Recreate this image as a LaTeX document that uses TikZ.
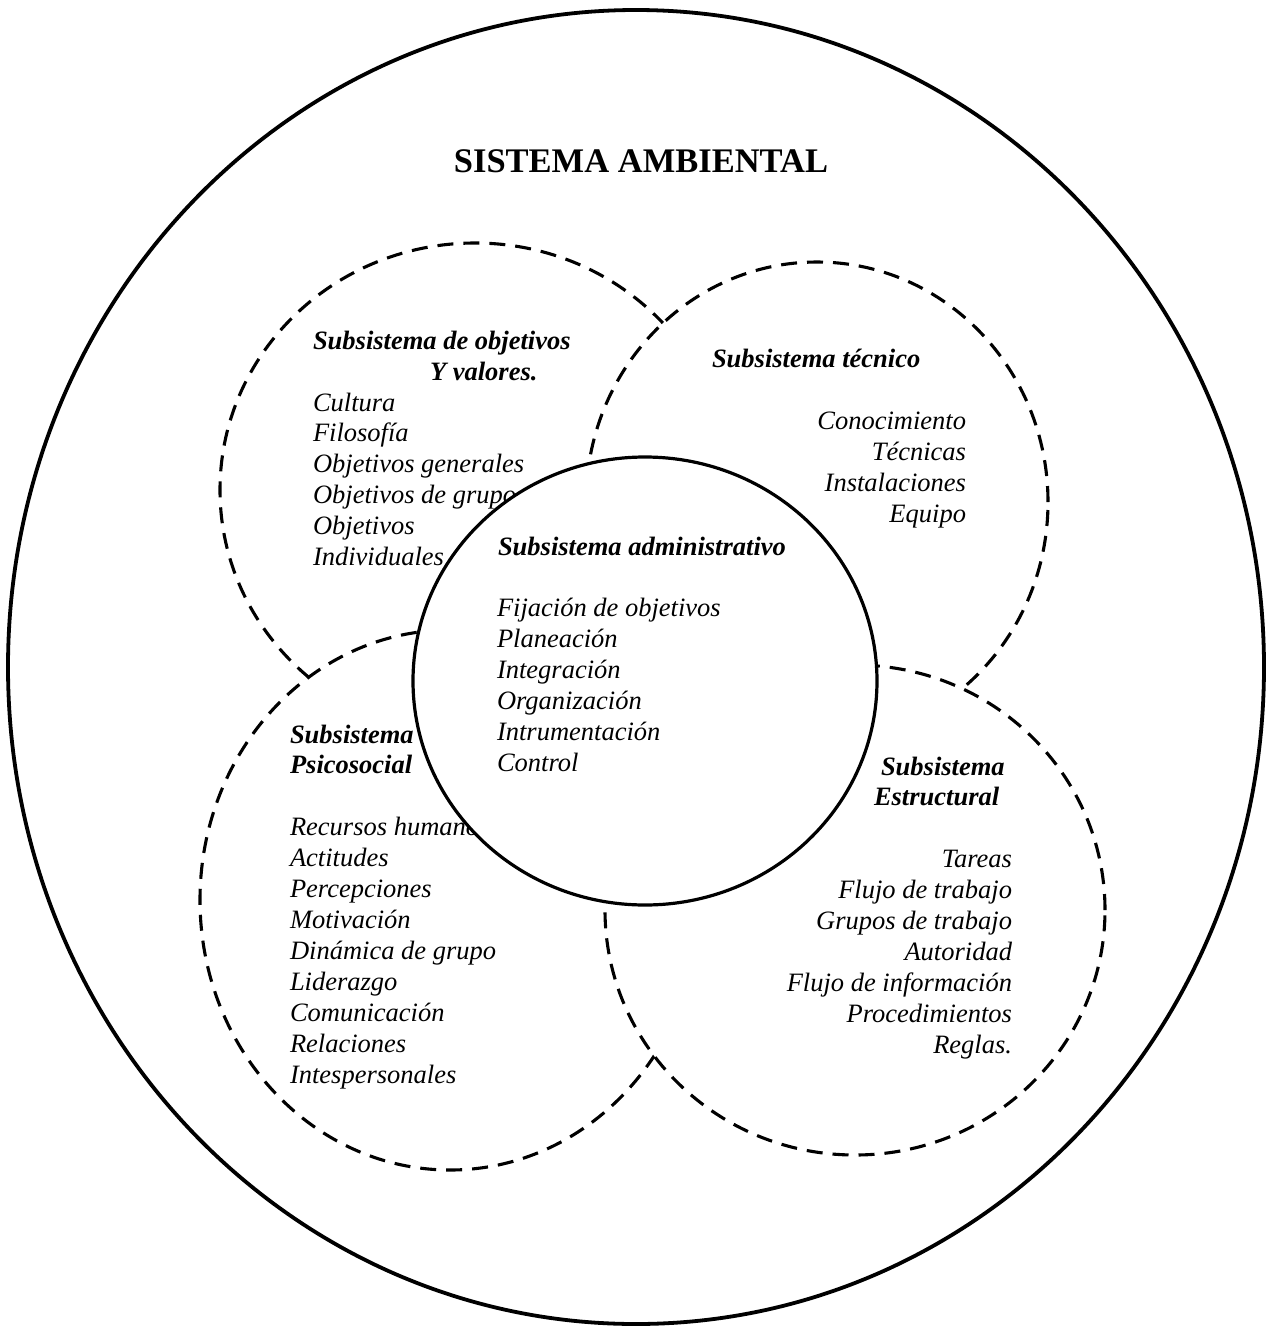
\documentclass[tikz,border=0pt]{standalone}
\usepackage{fontspec}
\setmainfont{Liberation Serif}
\begin{document}
\begin{tikzpicture}[x=1pt,y=-1pt,
  every node/.style={inner sep=0pt, outer sep=0pt},
  itm/.style={font=\fontsize{26.5}{31}\selectfont\itshape},
  hdr/.style={font=\fontsize{26.5}{31}\selectfont\bfseries\itshape},
  ttl/.style={font=\fontsize{34.5}{40}\selectfont\bfseries},
  subsys/.style={draw=black, line width=3.1pt, dash pattern=on 16pt off 10pt, fill=white},
  solidline/.style={draw=black, line width=3.2pt},
]
\useasboundingbox (0,0) rectangle (1270,1334);
% outer environment
\draw[solidline, line width=3.8pt] (636,667) ellipse [x radius=628pt, y radius=657pt];
\node[ttl, anchor=base] (title) at (641,172) {SISTEMA AMBIENTAL};
% subsystems (layered, white filled)
\path[subsys] (475,490) ellipse [x radius=255pt, y radius=247pt];
\path[subsys] (817,502) ellipse [x radius=231pt, y radius=240pt];
\path[subsys] (450,900) ellipse [x radius=250pt, y radius=270pt];
\path[subsys] (855,910) ellipse [x radius=250pt, y radius=245pt];
% objetivos y valores
\node[hdr, anchor=base west] (tlh1) at (313,349) {Subsistema de objetivos};
\node[hdr, anchor=base west] (tlh2) at (430,380) {Y valores.};
\foreach \t/\b [count=\i] in {Cultura/411,Filosofía/441,Objetivos generales/472,Objetivos de grupo/503,Objetivos/534,Individuales/565}
  \node[itm, anchor=base west] (tl-\i) at (313,\b) {\t};
% tecnico
\node[hdr, anchor=base west] (trh) at (712,367) {Subsistema técnico};
\foreach \t/\b [count=\i] in {Conocimiento/429,Técnicas/460,Instalaciones/491,Equipo/522}
  \node[itm, anchor=base east] (tr-\i) at (966,\b) {\t};
% psicosocial
\node[hdr, anchor=base west] (blh1) at (290,743) {Subsistema};
\node[hdr, anchor=base west] (blh2) at (290,773) {Psicosocial};
\foreach \t/\b [count=\i] in {Recursos humanos/835,Actitudes/866,Percepciones/897,Motivación/928,Dinámica de grupo/959,Liderazgo/990,Comunicación/1021,Relaciones/1052,Intespersonales/1083}
  \node[itm, anchor=base west] (bl-\i) at (290,\b) {\t};
% estructural
\node[hdr, anchor=base west] (brh1) at (881,775) {Subsistema};
\node[hdr, anchor=base west] (brh2) at (874,805) {Estructural};
\foreach \t/\b [count=\i] in {Tareas/867,Flujo de trabajo/898,Grupos de trabajo/929,Autoridad/960,Flujo de información/991,Procedimientos/1022,Reglas./1053}
  \node[itm, anchor=base east] (br-\i) at (1012,\b) {\t};
% administrativo (center)
\path[solidline, fill=white] (645,681) ellipse [x radius=232pt, y radius=224pt];
\node[hdr, anchor=base west] (ch) at (498,555) {Subsistema administrativo};
\foreach \t/\b [count=\i] in {Fijación de objetivos/616,Planeación/647,Integración/678,Organización/709,Intrumentación/740,Control/771}
  \node[itm, anchor=base west] (c-\i) at (497,\b) {\t};
\end{tikzpicture}
\end{document}
